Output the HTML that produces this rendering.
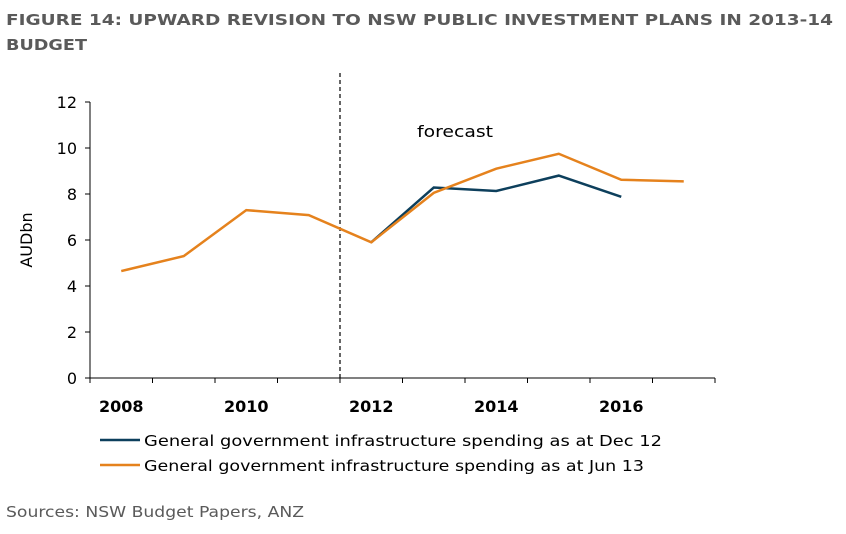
<!DOCTYPE html>
<html><head><meta charset="utf-8"><style>
body{margin:0;width:846px;height:530px;background:#fff;font-family:"DejaVu Sans",sans-serif;overflow:hidden}
svg text{font-family:"DejaVu Sans","Liberation Sans",sans-serif}
</style></head><body>
<svg width="846" height="530">
<text x="6" y="25" font-size="15" font-weight="bold" fill="#5a5a5a" textLength="827" lengthAdjust="spacingAndGlyphs">FIGURE 14: UPWARD REVISION TO NSW PUBLIC INVESTMENT PLANS IN 2013-14</text>
<text x="6" y="50" font-size="15" font-weight="bold" fill="#5a5a5a" textLength="81" lengthAdjust="spacingAndGlyphs">BUDGET</text>
<g id="axes"></g>
<g id="marks"></g>
<text x="417" y="137" font-size="16" fill="#000" textLength="76" lengthAdjust="spacingAndGlyphs">forecast</text>
<text transform="translate(32,240) rotate(-90)" text-anchor="middle" font-size="16">AUDbn</text>
<line x1="100" y1="440" x2="140" y2="440" stroke="#0d3f5c" stroke-width="2.5"/>
<text x="144" y="446" font-size="15" textLength="518" lengthAdjust="spacingAndGlyphs">General government infrastructure spending as at Dec 12</text>
<line x1="100" y1="465" x2="140" y2="465" stroke="#e5821d" stroke-width="2.5"/>
<text x="144" y="471" font-size="15" textLength="500" lengthAdjust="spacingAndGlyphs">General government infrastructure spending as at Jun 13</text>
<text x="6" y="517" font-size="15" fill="#5a5a5a" textLength="298" lengthAdjust="spacingAndGlyphs">Sources: NSW Budget Papers, ANZ</text>
</svg>
<script>
const years=[2008,2009,2010,2011,2012,2013,2014,2015,2016,2017];
const jun13=[4.65,5.3,7.3,7.08,5.9,8.05,9.1,9.75,8.62,8.55];
const dec12=[null,null,null,null,5.9,8.28,8.13,8.8,7.88,null];
const yTicks=[0,2,4,6,8,10,12];
const xLabels=[2008,2010,2012,2014,2016];
const forecastStart=2011.5;
const NS="http://www.w3.org/2000/svg";
const x0=90,x1=715,yb=378,yt=102,n=years.length,bw=(x1-x0)/n;
const X=yr=>x0+bw*(yr-years[0]+0.5);
const Y=v=>yb-(v/12)*(yb-yt);
function mk(tag,attrs,parent){const e=document.createElementNS(NS,tag);for(const k in attrs)e.setAttribute(k,attrs[k]);parent.appendChild(e);return e;}
const ax=document.getElementById('axes'),mg=document.getElementById('marks');
let l=mk('line',{x1:x0,y1:yt,x2:x0,y2:yb,stroke:'#000','stroke-width':1},ax);


l=mk('line',{x1:x0,y1:yb,x2:x1,y2:yb,stroke:'#000','stroke-width':1},ax);


yTicks.forEach(v=>{
 mk('line',{x1:x0-5,y1:Y(v),x2:x0,y2:Y(v),stroke:'#000'},ax);
 const t=mk('text',{x:x0-13,y:Y(v)+6,'text-anchor':'end','font-size':16},ax);t.textContent=v;
 
 
});
for(let i=0;i<=n;i++)mk('line',{x1:x0+bw*i,y1:yb,x2:x0+bw*i,y2:yb+5,stroke:'#000'},ax);
xLabels.forEach(v=>{
 const t=mk('text',{x:X(v),y:yb+34,'text-anchor':'middle','font-size':16,'font-weight':'bold'},ax);t.textContent=v;
 
 
});
const dl=mk('line',{x1:X(forecastStart),y1:73,x2:X(forecastStart),y2:yb,stroke:'#000','stroke-dasharray':'4,3','stroke-width':1.2},mg);


function path(vals){let d='';vals.forEach((v,i)=>{if(v==null)return;d+=(d?'L':'M')+X(years[i])+','+Y(v);});return d;}
const p1=mk('path',{d:path(jun13),fill:'none',stroke:'#e5821d','stroke-width':2.5},mg);


const p2=mk('path',{d:path(dec12),fill:'none',stroke:'#0d3f5c','stroke-width':2.5},mg);


mg.appendChild(p1);
</script>
</body></html>
